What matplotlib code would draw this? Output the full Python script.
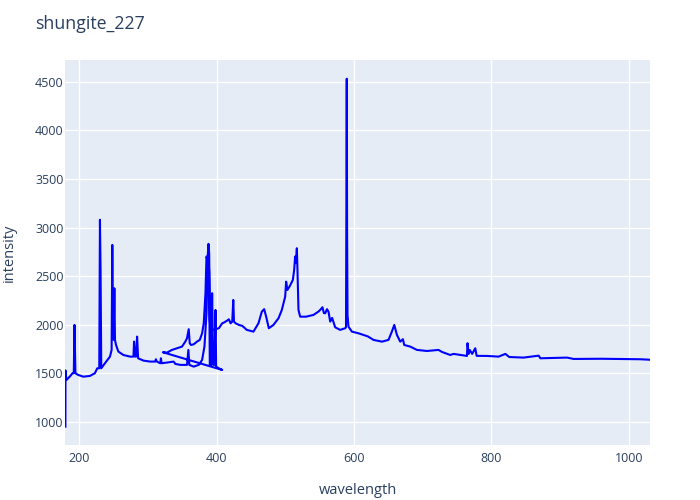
import matplotlib.pyplot as plt

# spectrum (two stitched segments, plotted as one trace)
wavelength = [
    179.5, 179.6, 181.0, 185.8, 189.8, 191.7, 192.7, 194.1, 198.0, 205.4,
    215.1, 222.4, 225.9, 228.8, 229.8, 230.7, 231.7, 237.1, 244.4, 246.8,
    247.8, 248.8, 249.8, 250.8, 251.7, 253.2, 256.6, 263.9, 273.7, 278.6,
    279.5, 281.0, 282.5, 283.9, 285.4, 293.2, 303.0, 310.3, 311.3, 312.7,
    317.6, 318.6, 319.6, 327.4, 337.1, 339.6, 346.9, 356.6, 358.6, 360.0,
    366.4, 373.7, 378.6, 382.0, 385.0, 386.9, 387.9, 388.9, 389.8, 391.8,
    393.2, 394.7, 396.7, 398.1, 399.1, 403.0, 407.9,
    # second segment
    321.5, 327.4, 334.7, 342.0, 349.3, 354.2, 356.6, 359.1, 360.6, 362.5,
    366.4, 371.3, 375.2, 378.6, 381.0, 383.5, 385.0, 386.4, 387.9, 388.9,
    389.8, 390.8, 393.2, 395.7, 398.1, 403.0, 407.9, 410.3, 415.2, 417.6,
    420.1, 422.5, 424.0, 425.0, 427.4, 432.3, 437.2, 443.7, 453.4, 460.7,
    465.6, 469.0, 472.0, 475.8, 482.5, 489.9, 494.7, 499.6, 501.0, 502.9,
    506.5, 510.8, 512.7, 514.1, 515.2, 516.6, 517.5, 519.0, 521.4, 530.0,
    540.8, 548.0, 550.6, 553.9, 556.0, 557.9, 560.5, 562.7, 565.2, 568.0,
    572.4, 579.7, 587.0, 588.2, 588.7, 589.3, 589.8, 590.4, 591.8, 596.8,
    606.4, 613.7, 620.0, 628.3, 640.5, 650.1, 655.0, 658.5, 662.4, 667.2,
    671.1, 673.0, 681.8, 691.5, 706.1, 723.0, 728.0, 740.0, 744.9, 764.4,
    765.2, 766.8, 768.5, 772.0, 776.5, 778.5, 793.6, 810.5, 820.3, 826.0,
    846.9, 868.8, 871.3, 910.2, 919.8, 960.0, 1017.0, 1031.0,
]
intensity = [
    952, 1530, 1432, 1466, 1501, 1501, 1998, 1501, 1484, 1466,
    1473, 1501, 1552, 1552, 3079, 2564, 1552, 1604, 1672, 1741,
    2821, 1912, 1844, 2375, 1844, 1792, 1724, 1689, 1672, 1672,
    1827, 1672, 1672, 1878, 1655, 1631, 1621, 1621, 1645, 1621,
    1604, 1655, 1604, 1611, 1621, 1597, 1587, 1587, 1741, 1587,
    1569, 1587, 1638, 1775, 2118, 2667, 2736, 2530, 1587, 1587,
    2324, 1587, 1587, 2152, 1569, 1552, 1535,
    # second segment
    1717, 1713, 1741, 1758, 1775, 1827, 1861, 1954, 1809, 1792,
    1799, 1827, 1844, 1912, 2015, 2324, 2701, 2667, 2832, 2736,
    2050, 1947, 1947, 1947, 1954, 1964, 2015, 2022, 2043, 2056,
    2015, 2032, 2255, 2032, 2015, 1998, 1988, 1947, 1929, 2015,
    2135, 2160, 2080, 1964, 1998, 2067, 2152, 2289, 2443, 2358,
    2400, 2461, 2564, 2701, 2640, 2787, 2564, 2152, 2083, 2083,
    2101, 2135, 2152, 2180, 2120, 2118, 2160, 2135, 2032, 2070,
    1974, 1947, 1964, 1975, 3300, 4530, 3000, 2100, 1980, 1929,
    1912, 1895, 1880, 1844, 1826, 1844, 1929, 1998, 1895, 1826,
    1851, 1792, 1775, 1741, 1730, 1741, 1720, 1689, 1700, 1679,
    1810, 1700, 1740, 1700, 1758, 1680, 1679, 1672, 1700, 1668,
    1662, 1682, 1655, 1662, 1648, 1650, 1645, 1640,
]

x_ticks = [200, 400, 600, 800, 1000]
y_ticks = [1000, 1500, 2000, 2500, 3000, 3500, 4000, 4500]

plt.rcParams["font.family"] = ["Open Sans", "DejaVu Sans"]
text_color = "#2a3f5f"

fig = plt.figure(figsize=(7, 5), dpi=100)
ax = fig.add_axes([65 / 700, 55 / 500, 585 / 700, 385 / 500])
ax.set_facecolor("#E5ECF6")

ax.plot(wavelength, intensity, color="blue", linewidth=1.5, zorder=3)

ax.set_xlim(178.9, 1031)
ax.set_ylim(763, 4723)
ax.set_xticks(x_ticks)
ax.set_yticks(y_ticks)
ax.grid(color="white", linewidth=1)
ax.set_axisbelow(True)
for s in ax.spines.values():
    s.set_visible(False)
ax.tick_params(length=0, labelsize=9, labelcolor=text_color)
ax.tick_params(axis="y", pad=1)
ax.tick_params(axis="x", pad=5)

ax.set_xlabel("wavelength", fontsize=10.5, color=text_color)
ax.set_ylabel("intensity", fontsize=10.5, color=text_color)
ax.xaxis.set_label_coords(0.5, -0.099)
ax.yaxis.set_label_coords(-0.082, 0.5)

fig.text(35 / 700, 1 - 24 / 500, "shungite_227", fontsize=12.75,
         color=text_color, va="center", ha="left")

fig.savefig("out.png", dpi=100)
